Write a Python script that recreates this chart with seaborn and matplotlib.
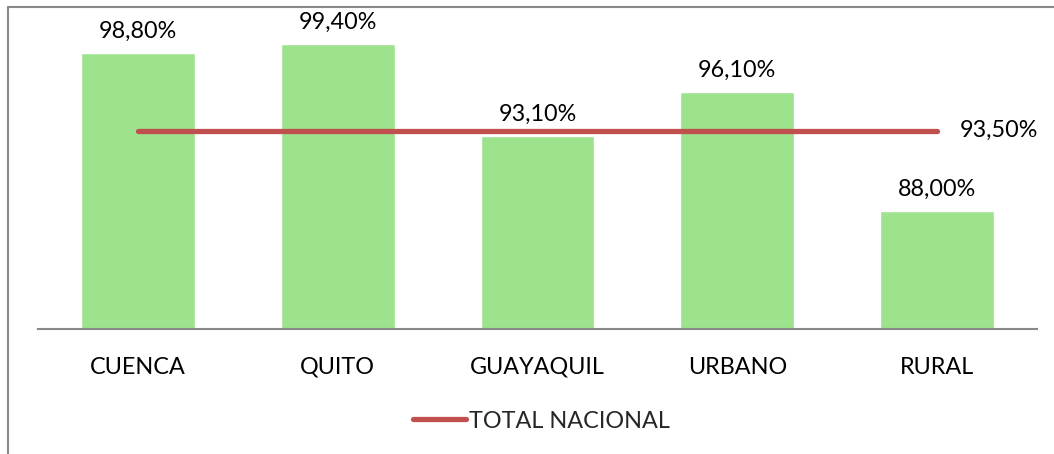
import matplotlib
matplotlib.use("Agg")
import matplotlib.pyplot as plt
import seaborn as sns
from matplotlib.lines import Line2D

categories = ["CUENCA", "QUITO", "GUAYAQUIL", "URBANO", "RURAL"]
values = [98.8, 99.4, 93.1, 96.1, 88.0]
total_label = "TOTAL NACIONAL"
total = [93.5, 93.5, 93.5, 93.5, 93.5]

sns.set_theme(style="white")
plt.rcParams["font.family"] = ["Lato", "DejaVu Sans"]

W, H = 1054, 454
fig = plt.figure(figsize=(W / 100, H / 100), dpi=100)
ax = fig.add_axes([38 / W, (H - 329) / H, 999 / W, (329 - 35) / H])

bar_color = "#9DE28C"
line_color = "#C0504D"
fs = 16.8

sns.barplot(x=categories, y=values, color=bar_color, width=0.57, saturation=1, ax=ax)
sns.lineplot(x=list(range(len(categories))), y=total, color=line_color, linewidth=3.8,
             sort=False, ax=ax, solid_capstyle="round")

ax.set_ylim(80, 100)
ax.set_xlim(-0.5, len(categories) - 0.5)

labels = [f"{v:.2f}%".replace(".", ",") for v in values]
ax.bar_label(ax.containers[0], labels=labels, padding=8, fontsize=fs, color="black", clip_on=False)
ax.text(len(categories) - 1 + 0.115, total[-1], f"{total[-1]:.2f}%".replace(".", ","),
        fontsize=fs, va="center", ha="left", color="black")

for s in ["top", "right", "left"]:
    ax.spines[s].set_visible(False)
ax.spines["bottom"].set_color("#898989")
ax.spines["bottom"].set_linewidth(1.5)
ax.set_yticks([])
ax.set_xlabel("")
ax.set_ylabel("")
ax.tick_params(axis="x", length=0, pad=20, labelsize=fs, labelcolor="black")

handle = Line2D([0], [0], color=line_color, linewidth=3.8, solid_capstyle="round")
fig.legend([handle], [total_label], loc="center", bbox_to_anchor=(541 / W, 1 - 421 / H),
           frameon=False, fontsize=fs, handlelength=2.3, handletextpad=0.1)

# outer chart frame (top and left edges visible)
fig.add_artist(Line2D([8 / W, 1], [1 - 7 / H, 1 - 7 / H], color="#898989", linewidth=1.5,
                      transform=fig.transFigure))
fig.add_artist(Line2D([8 / W, 8 / W], [0, 1 - 7 / H], color="#898989", linewidth=1.5,
                      transform=fig.transFigure))

fig.savefig("out.png", dpi=100, facecolor="white")
